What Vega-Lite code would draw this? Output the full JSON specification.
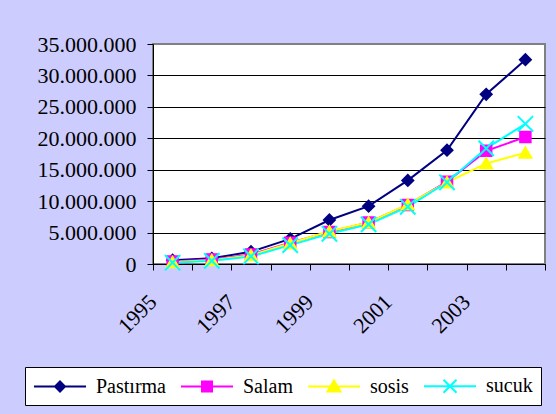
{
  "$schema": "https://vega.github.io/schema/vega-lite/v6.json",
  "width": 392,
  "height": 220,
  "autosize": {"type": "none"},
  "padding": {"left": 153, "top": 44, "right": 11, "bottom": 150},
  "background": "#CCCCFF",
  "config": {
    "locale": {"number": {"decimal": ",", "thousands": ".", "grouping": [3], "currency": ["", ""]}},
    "view": {"fill": "white", "stroke": "#808080", "strokeWidth": 2},
    "font": "Liberation Serif",
    "axis": {"labelFont": "Liberation Serif"},
    "legend": {"labelFont": "Liberation Serif"}
  },
  "data": {
    "values": [
      {"year": "1995", "series": "Pastırma", "value": 600000},
      {"year": "1996", "series": "Pastırma", "value": 900000},
      {"year": "1997", "series": "Pastırma", "value": 1950000},
      {"year": "1998", "series": "Pastırma", "value": 4000000},
      {"year": "1999", "series": "Pastırma", "value": 7000000},
      {"year": "2000", "series": "Pastırma", "value": 9200000},
      {"year": "2001", "series": "Pastırma", "value": 13300000},
      {"year": "2002", "series": "Pastırma", "value": 18100000},
      {"year": "2003", "series": "Pastırma", "value": 27000000},
      {"year": "2004", "series": "Pastırma", "value": 32500000},
      {"year": "1995", "series": "Salam", "value": 400000},
      {"year": "1996", "series": "Salam", "value": 700000},
      {"year": "1997", "series": "Salam", "value": 1500000},
      {"year": "1998", "series": "Salam", "value": 3400000},
      {"year": "1999", "series": "Salam", "value": 5100000},
      {"year": "2000", "series": "Salam", "value": 6600000},
      {"year": "2001", "series": "Salam", "value": 9400000},
      {"year": "2002", "series": "Salam", "value": 13100000},
      {"year": "2003", "series": "Salam", "value": 18000000},
      {"year": "2004", "series": "Salam", "value": 20200000},
      {"year": "1995", "series": "sosis", "value": 300000},
      {"year": "1996", "series": "sosis", "value": 600000},
      {"year": "1997", "series": "sosis", "value": 1400000},
      {"year": "1998", "series": "sosis", "value": 3300000},
      {"year": "1999", "series": "sosis", "value": 5200000},
      {"year": "2000", "series": "sosis", "value": 6600000},
      {"year": "2001", "series": "sosis", "value": 9500000},
      {"year": "2002", "series": "sosis", "value": 13000000},
      {"year": "2003", "series": "sosis", "value": 16000000},
      {"year": "2004", "series": "sosis", "value": 17700000},
      {"year": "1995", "series": "sucuk", "value": 200000},
      {"year": "1996", "series": "sucuk", "value": 500000},
      {"year": "1997", "series": "sucuk", "value": 1200000},
      {"year": "1998", "series": "sucuk", "value": 3000000},
      {"year": "1999", "series": "sucuk", "value": 4800000},
      {"year": "2000", "series": "sucuk", "value": 6300000},
      {"year": "2001", "series": "sucuk", "value": 9100000},
      {"year": "2002", "series": "sucuk", "value": 13000000},
      {"year": "2003", "series": "sucuk", "value": 18400000},
      {"year": "2004", "series": "sucuk", "value": 22300000}
    ]
  },
  "encoding": {
    "x": {
      "field": "year",
      "type": "ordinal",
      "bandPosition": 0.5,
      "scale": {"type": "band", "paddingInner": 0, "paddingOuter": 0},
      "axis": {
        "title": null,
        "tickBand": "extent",
        "grid": false,
        "domainColor": "black",
        "tickColor": "black",
        "tickSize": 6,
        "labelExpr": "toNumber(datum.value) % 2 === 1 ? datum.label : ''",
        "labelAngle": -45,
        "labelAlign": "right",
        "labelBaseline": "middle",
        "labelFont": "Liberation Serif",
        "labelFontSize": 22,
        "labelColor": "black",
        "labelPadding": 28,
        "labelOffset": -20,
        "labelOverlap": false
      }
    },
    "y": {
      "field": "value",
      "type": "quantitative",
      "scale": {"domain": [0, 35000000], "nice": false},
      "axis": {
        "title": null,
        "values": [0, 5000000, 10000000, 15000000, 20000000, 25000000, 30000000, 35000000],
        "format": ",d",
        "grid": true,
        "gridColor": {"condition": {"test": "datum.value === 35000000", "value": "#808080"}, "value": "black"},
        "gridWidth": 1,
        "gridOpacity": 1,
        "domainColor": "black",
        "tickColor": "black",
        "tickSize": 6,
        "labelFont": "Liberation Serif",
        "labelFontSize": 22,
        "labelColor": "black",
        "labelPadding": 11
      }
    }
  },
  "layer": [
    {
      "mark": {"type": "line", "strokeWidth": 2},
      "encoding": {
        "color": {
          "field": "series",
          "type": "nominal",
          "scale": {"domain": ["Pastırma", "Salam", "sosis", "sucuk"], "range": ["#000080", "#FF00FF", "#FFFF00", "#00FFFF"]},
          "legend": {
            "title": null,
            "orient": "none",
            "direction": "horizontal",
            "legendX": -128,
            "legendY": 323,
            "padding": 8,
            "fillColor": "white",
            "strokeColor": "black",
            "symbolSize": 400,
            "symbolOffset": 16,
            "labelOffset": 25,
            "columnPadding": 11,
            "labelFontSize": 20,
            "labelColor": "black",
            "labelFont": "Liberation Serif",
            "encode": {
              "symbols": {
                "update": {
                  "shape": {"signal": "datum.value === 'Pastırma' ? 'M-2.6,0H2.6M0,-0.5L0.5,0L0,0.5L-0.5,0Z' : datum.value === 'Salam' ? 'M-2.6,0H2.6M-0.5,-0.5H0.5V0.5H-0.5Z' : datum.value === 'sosis' ? 'M-2.6,0H2.6M0,-0.6L0.65,0.5H-0.65Z' : 'M-2.6,0H2.6M-0.65,-0.65L0.65,0.65M-0.65,0.65L0.65,-0.65'"},
                  "fill": {"signal": "scale('color', datum.value)"},
                  "stroke": {"signal": "scale('color', datum.value)"},
                  "strokeWidth": {"value": 2},
                  "opacity": {"value": 1}
                }
              }
            }
          }
        }
      }
    },
    {
      "transform": [{"filter": "datum.series === 'Pastırma'"}],
      "mark": {"type": "point", "shape": "diamond", "filled": true, "size": 120, "fill": "#000080", "stroke": "#000080", "strokeWidth": 2, "opacity": 1}
    },
    {
      "transform": [{"filter": "datum.series === 'Salam'"}],
      "mark": {"type": "point", "shape": "square", "filled": true, "size": 110, "fill": "#FF00FF", "stroke": "#FF00FF", "strokeWidth": 2, "opacity": 1}
    },
    {
      "transform": [{"filter": "datum.series === 'sosis'"}],
      "mark": {"type": "point", "shape": "triangle-up", "filled": true, "size": 140, "fill": "#FFFF00", "stroke": "#FFFF00", "strokeWidth": 2, "opacity": 1}
    },
    {
      "transform": [{"filter": "datum.series === 'sucuk'"}],
      "mark": {"type": "point", "shape": "M-1.4,-1.4L1.4,1.4M-1.4,1.4L1.4,-1.4", "filled": false, "size": 120, "stroke": "#00FFFF", "strokeWidth": 2, "opacity": 1}
    }
  ]
}
